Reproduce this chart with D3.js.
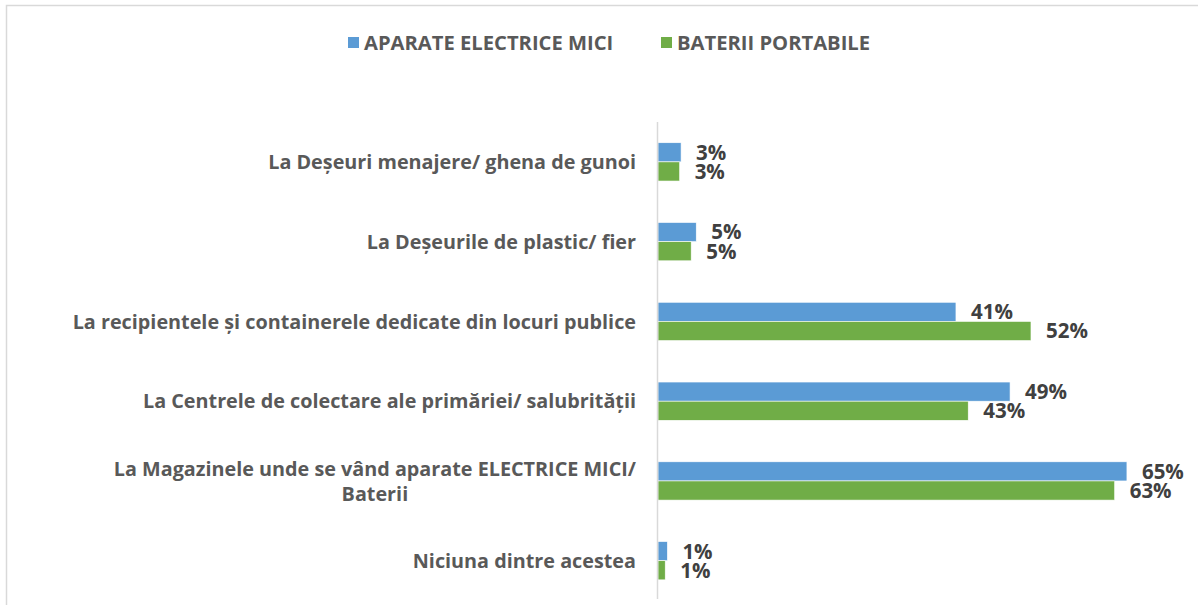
<!DOCTYPE html>
<html>
<head>
<meta charset="utf-8">
<script src="https://cdn.jsdelivr.net/npm/d3@7"></script>
<style>
    body { margin: 0; background: #fff; }
    svg { display: block; font-family: "Open Sans", "Noto Sans", sans-serif; }
    .cat { fill: #595959; font-weight: 700; font-size: 19.8px; }
    .val { fill: #404040; font-weight: 700; font-size: 20.5px; }
    .legend text { fill: #595959; font-weight: 700; font-size: 20.2px; }
</style>
</head>
<body>
<svg id="chart"></svg>
<script>
// Data
const categories = [
    "La Deșeuri menajere/ ghena de gunoi",
    "La Deșeurile de plastic/ fier",
    "La recipientele și containerele dedicate din locuri publice",
    "La Centrele de colectare ale primăriei/ salubrității",
    "La Magazinele unde se vând aparate ELECTRICE MICI/ Baterii",
    "Niciuna dintre acestea"
];
const seriesNames = ["APARATE ELECTRICE MICI", "BATERII PORTABILE"];
const aparate = [0.032, 0.053, 0.413, 0.488, 0.650, 0.013];
const baterii = [0.030, 0.046, 0.517, 0.430, 0.633, 0.010];
const colors = ["#5B9BD5", "#70AD47"];

const width = 1198;
const height = 605;
const margin = { top: 122, right: 35, bottom: 5, left: 658 };

const svg = d3.select("#chart")
    .attr("width", width)
    .attr("height", height);

// chart frame (only top and left edges visible in the crop)
svg.append("rect")
    .attr("x", 6.5)
    .attr("y", 5.5)
    .attr("width", width + 20)
    .attr("height", height + 20)
    .attr("fill", "none")
    .attr("stroke", "#d9d9d9")
    .attr("stroke-width", 1.5);

const x = d3.scaleLinear()
    .domain([0, 0.70])
    .range([margin.left, width - margin.right]);

const y = d3.scaleBand()
    .domain(categories)
    .range([margin.top, height - margin.bottom + 0.6])
    .paddingInner(0.52)
    .paddingOuter(0.26);

const ySub = d3.scaleBand()
    .domain(seriesNames)
    .range([0, y.bandwidth()]);

const rows = categories.map((c, i) => ({
    cat: c,
    values: [
        { key: seriesNames[0], value: aparate[i] },
        { key: seriesNames[1], value: baterii[i] }
    ]
}));

const fmt = d3.format(".0%");

const groups = svg.append("g")
    .selectAll("g")
    .data(rows)
    .enter().append("g")
    .attr("transform", d => `translate(0,${y(d.cat)})`);

groups.selectAll("rect")
    .data(d => d.values)
    .enter().append("rect")
    .attr("x", x(0))
    .attr("y", d => ySub(d.key))
    .attr("width", d => x(d.value) - x(0))
    .attr("height", ySub.bandwidth())
    .attr("fill", (d, i) => colors[i])
    .attr("stroke", "#fff")
    .attr("stroke-width", 0.6);

groups.selectAll("text.val")
    .data(d => d.values)
    .enter().append("text")
    .attr("class", "val")
    .attr("x", d => x(d.value) + 15)
    .attr("y", d => ySub(d.key) + ySub.bandwidth() / 2)
    .attr("dy", "0.36em")
    .text(d => fmt(d.value));

// Vertical axis line
svg.append("line")
    .attr("x1", x(0) - 0.5)
    .attr("x2", x(0) - 0.5)
    .attr("y1", margin.top)
    .attr("y2", height - 6)
    .attr("stroke", "#d9d9d9")
    .attr("stroke-width", 1.5);

// Category labels, wrapped and centred line by line like Excel
const labelRight = 636;
const maxLabelWidth = 580;
const lineHeight = 25;

const catLabels = svg.append("g")
    .selectAll("text")
    .data(categories)
    .enter().append("text")
    .attr("class", "cat");

catLabels.each(function(d) {
    const text = d3.select(this);
    const words = d.split(" ");
    let lines = [];
    let line = [];
    const probe = text.append("tspan");
    words.forEach(w => {
        line.push(w);
        probe.text(line.join(" "));
        if (probe.node().getComputedTextLength() > maxLabelWidth && line.length > 1) {
            line.pop();
            lines.push(line.join(" "));
            line = [w];
        }
    });
    lines.push(line.join(" "));
    probe.remove();

    const cy = y(d) + y.bandwidth() / 2;
    const startY = cy - (lines.length - 1) * lineHeight / 2;
    const spans = lines.map((l, i) => text.append("tspan")
        .attr("y", startY + i * lineHeight)
        .attr("dy", "0.36em")
        .text(l));
    if (lines.length === 1) {
        text.attr("text-anchor", "end");
        spans[0].attr("x", labelRight);
    } else {
        const w = d3.max(spans, s => s.node().getComputedTextLength());
        text.attr("text-anchor", "middle");
        spans.forEach(s => s.attr("x", labelRight - w / 2));
    }
});

// Legend
const legend = svg.append("g").attr("class", "legend");
const legendX = [348, 661];
seriesNames.forEach((name, i) => {
    const g = legend.append("g").attr("transform", `translate(${legendX[i]},37)`);
    g.append("rect")
        .attr("width", 11)
        .attr("height", 11)
        .attr("fill", colors[i]);
    g.append("text")
        .attr("x", 16)
        .attr("y", 6)
        .attr("dy", "0.36em")
        .text(name);
});
</script>
</body>
</html>
